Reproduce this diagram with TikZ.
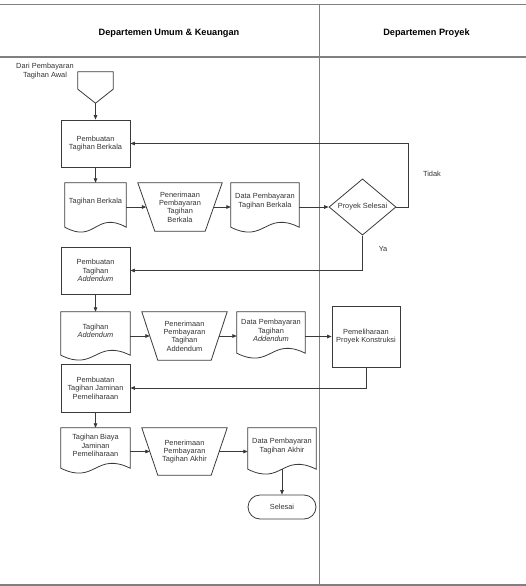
\documentclass[tikz,border=0pt]{standalone}
\usepackage{fontspec}
\setmainfont{Liberation Sans}
\usetikzlibrary{arrows.meta,shapes.geometric,shapes.misc,calc}
\definecolor{frameg}{HTML}{808080}
\definecolor{lineg}{HTML}{3A3A3A}
\definecolor{textg}{HTML}{333333}
\newcommand{\docshape}[2]{%
  \draw[shapeline] (#1.north west) -- (#1.north east) -- ([yshift=-#2]#1.south east)
    .. controls ([yshift=-#2+17pt]#1.south) and ([yshift=-#2-17pt]#1.south) .. ([yshift=-#2]#1.south west) -- cycle;}
\newcommand{\trapshape}[2]{%
  \draw[shapeline] ([xshift=-#2]#1.north west) -- ([xshift=#2]#1.north east) -- ([xshift=-#2]#1.south east) -- ([xshift=#2]#1.south west) -- cycle;}
\begin{document}
\begin{tikzpicture}[x=1pt,y=-1pt,
  every node/.style={font=\fontsize{7.4}{8.4}\selectfont, text=textg, align=center, inner sep=0pt},
  shapeline/.style={draw=lineg, line width=0.8pt},
  procbox/.style={shapeline, rectangle, minimum width=69pt, minimum height=47pt},
  plain/.style={draw=none, rectangle},
  flow/.style={draw=lineg, line width=0.8pt, -{Triangle[length=4.5pt,width=3.6pt]}},
  frame/.style={draw=frameg, line width=1.3pt},
  header/.style={font=\fontsize{9.2}{11}\selectfont\bfseries, text=black}
]
\useasboundingbox (0,0) rectangle (526,586);
% frame
\draw[frame] (0,4.5) -- (526,4.5);
\draw[frame] (0,57) -- (526,57);
\draw[frame] (0,585) -- (526,585);
\draw[frame] (319.5,4.5) -- (319.5,585);
\node[header] (h1) at (169,33) {Departemen Umum \& Keuangan};
\node[header] (h2) at (426.5,33) {Departemen Proyek};

% start connector
\node (lbl) at (45,71) {Dari Pembayaran\\Tagihan Awal};
\node[plain, minimum width=35pt, minimum height=31pt] (conn) at (95.5,87.5) {};
\draw[shapeline] (conn.north west) -- (conn.north east) -- ([yshift=14pt]conn.south east) -- (conn.south) -- ([yshift=14pt]conn.south west) -- cycle;

% row 1
\node[procbox] (box1) at (95.5,143.5) {Pembuatan\\Tagihan Berkala};
\node[plain, minimum width=61pt, minimum height=38pt] (doc1) at (95.5,202) {Tagihan Berkala};
\docshape{doc1}{6pt}
\node[plain, minimum width=67pt, minimum height=48pt] (trap1) at (180,207) {Penerimaan\\Pembayaran\\Tagihan\\Berkala};
\trapshape{trap1}{8.5pt}
\node[plain, minimum width=68pt, minimum height=36pt] (data1) at (265,201) {Data Pembayaran\\Tagihan Berkala};
\docshape{data1}{8pt}
\node[diamond, shapeline, minimum width=67pt, minimum height=47pt] (dia) at (362.5,207) {Proyek Selesai};
\node (tidak) at (432,174) {Tidak};
\node (ya) at (383,249) {Ya};

% row 2
\node[procbox] (box2) at (95.5,270.5) {Pembuatan\\Tagihan\\\textit{Addendum}};
\node[plain, minimum width=69pt, minimum height=38pt] (doc2) at (95.5,331) {Tagihan\\\textit{Addendum}};
\docshape{doc2}{5pt}
\node[plain, minimum width=69pt, minimum height=48pt] (trap2) at (184.5,336) {Penerimaan\\Pembayaran\\Tagihan\\Addendum};
\trapshape{trap2}{8pt}
\node[plain, minimum width=68pt, minimum height=37pt] (data2) at (271,330.5) {Data Pembayaran\\Tagihan\\\textit{Addendum}};
\docshape{data2}{4pt}
\node[shapeline, rectangle, minimum width=68pt, minimum height=61pt] (ppk) at (366,336.5) {Pemeliharaan\\Proyek Konstruksi};

% row 3
\node[procbox, minimum height=48pt] (box3) at (95.5,388) {Pembuatan\\Tagihan Jaminan\\Pemeliharaan};
\node[plain, minimum width=69pt, minimum height=35pt] (doc3) at (95.5,445.5) {Tagihan Biaya\\Jaminan\\Pemeliharaan};
\docshape{doc3}{5pt}
\node[plain, minimum width=69pt, minimum height=47pt] (trap3) at (184.5,451.5) {Penerimaan\\Pembayaran\\Tagihan Akhir};
\trapshape{trap3}{8pt}
\node[plain, minimum width=68pt, minimum height=36pt] (data3) at (282,446) {Data Pembayaran\\Tagihan Akhir};
\docshape{data3}{5pt}
\node[rounded rectangle, shapeline, minimum width=68pt, minimum height=24pt] (sel) at (282,507) {Selesai};

% connectors
\draw[flow] (conn.south) -- (box1.north);
\draw[flow] (box1.south) -- (doc1.north);
\draw[flow] (doc1.east |- trap1.west) -- (trap1.west);
\draw[flow] (trap1.east) -- (data1.west |- trap1.east);
\draw[flow] (data1.east |- dia.west) -- (dia.west);
\draw[flow] (dia.east) -- ++(12,0) |- (box1.east);
\draw[flow] (dia.south) |- (box2.east);
\draw[flow] (box2.south) -- (doc2.north);
\draw[flow] (doc2.east |- trap2.west) -- (trap2.west);
\draw[flow] (trap2.east) -- (data2.west |- trap2.east);
\draw[flow] (data2.east |- ppk.west) -- (ppk.west);
\draw[flow] (ppk.south) |- (box3.east);
\draw[flow] (box3.south) -- (doc3.north);
\draw[flow] (doc3.east |- trap3.west) -- (trap3.west);
\draw[flow] (trap3.east) -- (data3.west |- trap3.east);
\draw[flow] ([yshift=-5pt]data3.south) -- (sel.north);
\end{tikzpicture}
\end{document}
